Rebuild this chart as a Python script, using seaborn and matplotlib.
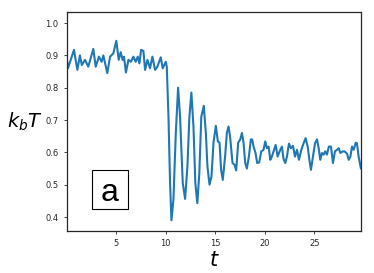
import seaborn as sns
import matplotlib.pyplot as plt
import matplotlib.patches as mpatches
import pandas as pd

# time axis and k_b T values
t = [0.05, 0.15, 0.76, 1.1, 1.36, 1.55, 1.87, 2.2, 2.71, 2.95, 3.28, 3.55, 3.72,
     4.12, 4.4, 4.73, 5.03, 5.27, 5.47, 5.67, 5.8, 6.0, 6.25, 6.5, 6.75, 6.98,
     7.19, 7.36, 7.53, 7.76, 7.93, 8.17, 8.43, 8.67, 8.94, 9.17, 9.51, 9.71,
     10.02, 10.12, 10.29, 10.45, 10.59, 10.79, 11.03, 11.26, 11.46, 11.73,
     11.97, 12.2, 12.4, 12.6, 12.81, 13.0, 13.2, 13.4, 13.6, 13.85, 14.06,
     14.22, 14.43, 14.63, 14.83, 15.07, 15.27, 15.44, 15.6, 15.77, 16.0, 16.18,
     16.35, 16.5, 16.75, 16.95, 17.12, 17.32, 17.53, 17.7, 17.86, 18.03, 18.2,
     18.4, 18.6, 18.73, 18.87, 19.07, 19.24, 19.44, 19.65, 19.88, 20.05, 20.22,
     20.39, 20.56, 20.72, 20.89, 21.1, 21.3, 21.5, 21.73, 21.9, 22.07, 22.24,
     22.44, 22.64, 22.85, 23.05, 23.25, 23.45, 23.69, 23.92, 24.12, 24.33,
     24.5, 24.66, 24.86, 25.07, 25.27, 25.44, 25.6, 25.77, 25.94, 26.1, 26.27,
     26.47, 26.68, 26.88, 27.08, 27.29, 27.46, 27.63, 27.86, 28.06, 28.3,
     28.47, 28.64, 28.8, 28.97, 29.18, 29.3, 29.47, 29.7]
kbT = [0.886, 0.86, 0.917, 0.855, 0.90, 0.87, 0.886, 0.865, 0.92, 0.865, 0.896,
       0.88, 0.90, 0.845, 0.896, 0.906, 0.945, 0.886, 0.91, 0.886, 0.896, 0.847,
       0.886, 0.88, 0.896, 0.88, 0.896, 0.875, 0.917, 0.914, 0.855, 0.886, 0.86,
       0.896, 0.855, 0.865, 0.894, 0.86, 0.88, 0.865, 0.71, 0.505, 0.39, 0.454,
       0.66, 0.80, 0.71, 0.505, 0.456, 0.557, 0.71, 0.785, 0.68, 0.505, 0.443,
       0.535, 0.71, 0.744, 0.66, 0.557, 0.50, 0.526, 0.63, 0.682, 0.634, 0.63,
       0.546, 0.515, 0.587, 0.66, 0.68, 0.65, 0.567, 0.562, 0.544, 0.63, 0.64,
       0.66, 0.63, 0.567, 0.55, 0.587, 0.64, 0.64, 0.618, 0.598, 0.567, 0.569,
       0.603, 0.608, 0.634, 0.613, 0.618, 0.577, 0.587, 0.603, 0.623, 0.587,
       0.603, 0.618, 0.579, 0.567, 0.587, 0.627, 0.613, 0.62, 0.587, 0.608,
       0.577, 0.608, 0.628, 0.644, 0.618, 0.577, 0.546, 0.587, 0.628, 0.64,
       0.613, 0.577, 0.598, 0.593, 0.603, 0.593, 0.618, 0.618, 0.567, 0.603,
       0.608, 0.613, 0.598, 0.603, 0.603, 0.596, 0.577, 0.587, 0.618, 0.608,
       0.63, 0.628, 0.587, 0.55]

df = pd.DataFrame({"t": t, "kbT": kbT})

sns.set_style("ticks")
fig = plt.figure(figsize=(3.74, 2.73), dpi=100)
ax = fig.add_axes([0.179, 0.154, 0.786, 0.802])

sns.lineplot(data=df, x="t", y="kbT", ax=ax, color="#1f77b4", linewidth=1.5)

ax.set_xlim(t[0], t[-1])
ax.set_ylim(0.357, 1.034)
ax.set_xticks([5, 10, 15, 20, 25])
ax.set_yticks([0.4, 0.5, 0.6, 0.7, 0.8, 0.9, 1.0])
ax.tick_params(labelsize=6, length=2.5, width=0.6)
for s in ax.spines.values():
    s.set_linewidth(0.9)
    s.set_color("0.15")

ax.set_xlabel("$t$", fontsize=15, labelpad=1, color="black")
ax.set_ylabel("$k_bT$", fontsize=14, rotation=0, labelpad=15, va="center",
              color="black")

# panel tag "a" in a framed box
ax.add_patch(mpatches.Rectangle((0.085, 0.10), 0.122, 0.179,
                                transform=ax.transAxes, fc="white",
                                ec="black", lw=0.8, zorder=3))
ax.text(0.146, 0.137, "a", transform=ax.transAxes, fontsize=23, color="black",
        family="Liberation Sans", ha="center", va="baseline", zorder=4)

fig.savefig("out.png", dpi=100)
